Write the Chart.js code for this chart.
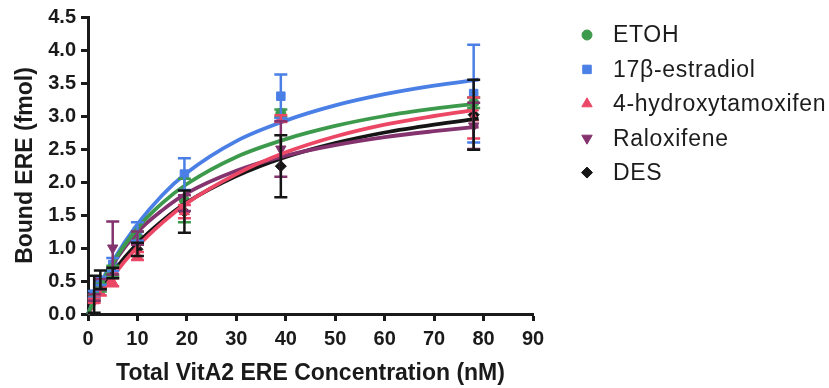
<!DOCTYPE html>
<html>
<head>
<meta charset="utf-8">
<script src="https://cdn.jsdelivr.net/npm/chart.js@4.4.1/dist/chart.umd.min.js"></script>
<style>
html,body{margin:0;padding:0;background:#fff;}
#wrap{position:relative;width:829px;height:388px;}
</style>
</head>
<body>
<div id="wrap"><canvas id="c" width="829" height="388"></canvas></div>
<script>
// ---- data ----
const seriesNames = ["ETOH", "17\u03B2-estradiol", "4-hydroxytamoxifen", "Raloxifene", "DES"];
const concentrations = [1.25, 2.5, 5, 10, 19.5, 39, 78];

const etohMean   = [0.25, 0.40, 0.65, 1.15, 1.72, 3.04, 3.20];
const etohErr    = [0.05, 0.06, 0.08, 0.10, 0.33, 0.06, 0.08];
const e2Mean     = [0.30, 0.50, 0.75, 1.25, 2.12, 3.30, 3.34];
const e2Err      = [0.05, 0.06, 0.10, 0.14, 0.24, 0.33, 0.74];
const ohtMean    = [0.20, 0.33, 0.48, 0.88, 1.55, 2.96, 2.97];
const ohtErr     = [0.03, 0.05, 0.06, 0.06, 0.10, 0.05, 0.31];
const raloxMean  = [0.25, 0.45, 1.00, 1.15, 1.68, 2.50, 2.85];
const raloxErr   = [0.05, 0.08, 0.40, 0.10, 0.12, 0.42, 0.35];
const desMean    = [0.30, 0.52, 0.62, 0.98, 1.55, 2.24, 3.02];
const desErr     = [0.28, 0.14, 0.08, 0.10, 0.32, 0.47, 0.53];

// fitted curves at these concentrations
const curveX     = [0, 2.5, 5, 10, 15, 20, 30, 40, 50, 60, 70, 79];
const etohCurve  = [0, 0.42, 0.77, 1.30, 1.68, 1.97, 2.38, 2.65, 2.85, 3.00, 3.11, 3.19];
const e2Curve    = [0, 0.45, 0.80, 1.36, 1.80, 2.14, 2.62, 2.93, 3.16, 3.33, 3.46, 3.55];
const ohtCurve   = [0, 0.30, 0.57, 1.02, 1.38, 1.68, 2.12, 2.45, 2.69, 2.87, 3.00, 3.10];
const raloxCurve = [0, 0.42, 0.75, 1.24, 1.57, 1.83, 2.17, 2.40, 2.56, 2.68, 2.77, 2.84];
const desCurve   = [0, 0.35, 0.63, 1.07, 1.41, 1.69, 2.09, 2.38, 2.59, 2.75, 2.87, 2.96];

const xTicks = [0, 10, 20, 30, 40, 50, 60, 70, 80, 90];
const yTicks = [0.0, 0.5, 1.0, 1.5, 2.0, 2.5, 3.0, 3.5, 4.0, 4.5];

// ---- styling ----
const colors = ["#3d9a4c", "#4a7fe6", "#ec4866", "#84336f", "#151515"];
const styles = [
  {pointStyle: "circle", rotation: 0, radius: 5},
  {pointStyle: "rect", rotation: 0, radius: 6},
  {pointStyle: "triangle", rotation: 0, radius: 6},
  {pointStyle: "triangle", rotation: 180, radius: 6},
  {pointStyle: "rectRot", rotation: 0, radius: 5.5}
];
const means = [etohMean, e2Mean, ohtMean, raloxMean, desMean];
const errs = [etohErr, e2Err, ohtErr, raloxErr, desErr];
const curves = [etohCurve, e2Curve, ohtCurve, raloxCurve, desCurve];

const datasets = [];
curves.forEach((c, i) => {
  datasets.push({
    type: "line", label: seriesNames[i] + " fit",
    data: curveX.map((x, k) => ({x: x, y: c[k]})),
    borderColor: colors[i], borderWidth: 3.8, pointRadius: 0,
    cubicInterpolationMode: "monotone", fill: false, order: 1, clip: false
  });
});
means.forEach((m, i) => {
  datasets.push({
    type: "line", label: seriesNames[i], showLine: false,
    data: concentrations.map((x, k) => ({x: x, y: m[k]})),
    pointStyle: styles[i].pointStyle, pointRotation: styles[i].rotation,
    pointRadius: styles[i].radius, pointBackgroundColor: colors[i],
    pointBorderColor: colors[i], pointBorderWidth: 1, order: 2, clip: false
  });
});

const errorBars = {
  id: "errorBars",
  afterDatasetsDraw(chart) {
    const ctx = chart.ctx, xs = chart.scales.x, ys = chart.scales.y;
    ctx.save();
    ctx.lineWidth = 2.5;
    means.forEach((m, i) => {
      ctx.strokeStyle = colors[i];
      concentrations.forEach((cx, k) => {
        const px = xs.getPixelForValue(cx);
        const top = ys.getPixelForValue(m[k] + errs[i][k]);
        const bot = ys.getPixelForValue(Math.max(0, m[k] - errs[i][k]));
        const cap = 6.5;
        ctx.beginPath();
        ctx.moveTo(px, top); ctx.lineTo(px, bot);
        ctx.moveTo(px - cap, top); ctx.lineTo(px + cap, top);
        ctx.moveTo(px - cap, bot); ctx.lineTo(px + cap, bot);
        ctx.stroke();
      });
    });
    ctx.restore();
  }
};

const legendPlugin = {
  id: "customLegend",
  afterDraw(chart) {
    const ctx = chart.ctx;
    ctx.save();
    const mx = 587, tx = 613, y0 = 35, dy = 34.4;
    ctx.font = "23px 'Liberation Sans', Arial, sans-serif";
    try { ctx.letterSpacing = "0.7px"; } catch (e) {}
    ctx.textBaseline = "middle";
    ctx.textAlign = "left";
    seriesNames.forEach((name, i) => {
      const y = y0 + dy * i;
      ctx.fillStyle = colors[i];
      ctx.strokeStyle = colors[i];
      Chart.helpers.drawPoint(ctx, {pointStyle: styles[i].pointStyle, rotation: styles[i].rotation,
        radius: styles[i].radius, borderWidth: 1}, mx, y);
      ctx.fillStyle = "#1c1c1c";
      ctx.fillText(name, tx, y + 1);
    });
    ctx.restore();
  }
};

const axisColor = "#1a1a1a";
const fam = "'Liberation Sans', Arial, sans-serif";
new Chart(document.getElementById("c"), {
  type: "line",
  data: {datasets: datasets},
  plugins: [errorBars, legendPlugin],
  options: {
    responsive: false, animation: false, devicePixelRatio: 1,
    layout: {padding: {left: 0, top: 15, right: 296, bottom: 0}},
    plugins: {legend: {display: false}, tooltip: {enabled: false}},
    scales: {
      x: {
        type: "linear", min: 0, max: 90,
        afterFit(s) { s.height = 74; },
        afterBuildTicks(s) { s.ticks = xTicks.map(v => ({value: v})); },
        ticks: {color: axisColor, padding: 6, font: {family: fam, size: 20, weight: "bold"}, maxRotation: 0},
        grid: {display: true, drawOnChartArea: false, drawTicks: true, tickLength: 7, tickWidth: 3, tickColor: axisColor},
        border: {display: true, width: 3, color: axisColor},
        title: {display: true, text: "Total VitA2 ERE Concentration (nM)", color: axisColor,
          font: {family: fam, size: 23, weight: "bold"}, padding: {top: 0, bottom: 1}}
      },
      y: {
        type: "linear", min: 0, max: 4.5,
        afterFit(s) { s.width = 88; },
        afterBuildTicks(s) { s.ticks = yTicks.map(v => ({value: v})); },
        ticks: {color: axisColor, padding: 5, callback: v => Number(v).toFixed(1),
          font: {family: fam, size: 20, weight: "bold"}},
        grid: {display: true, drawOnChartArea: false, drawTicks: true, tickLength: 7, tickWidth: 3, tickColor: axisColor},
        border: {display: true, width: 3, color: axisColor},
        title: {display: true, text: "Bound ERE (fmol)", color: axisColor,
          font: {family: fam, size: 23, weight: "bold"}, padding: {top: 12, bottom: 0}}
      }
    }
  }
});
</script>
</body>
</html>
